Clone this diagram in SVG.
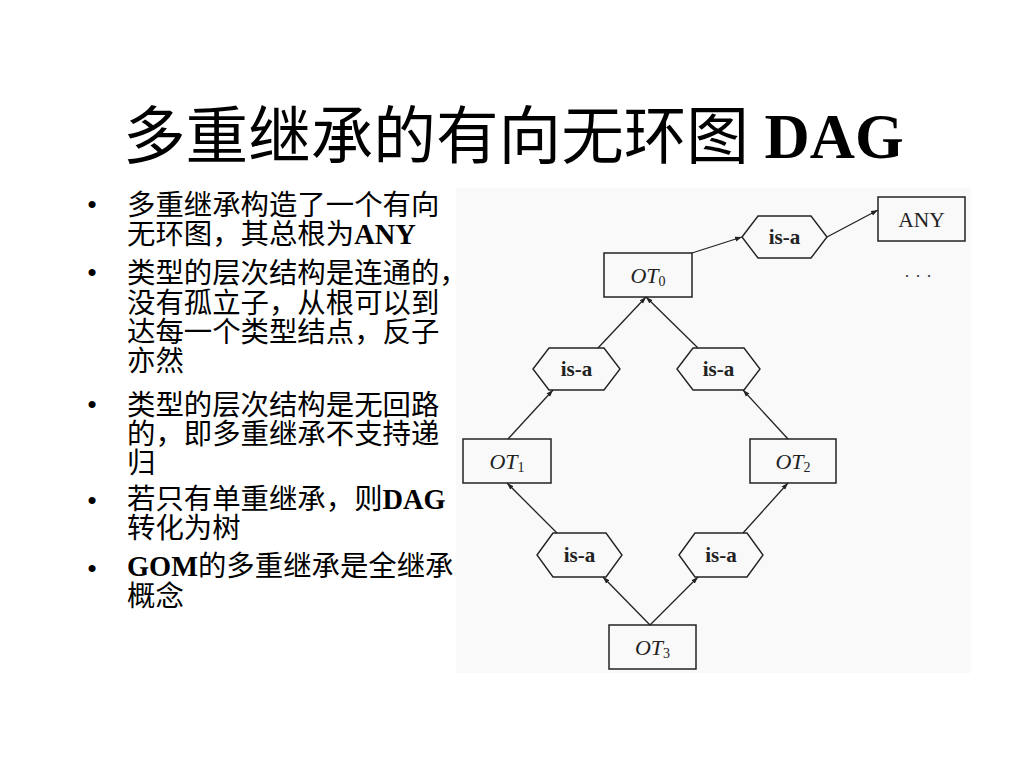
<svg xmlns="http://www.w3.org/2000/svg" width="1024" height="768" viewBox="0 0 1024 768">
<style>
.cn{font-family:"Noto Sans CJK SC","Noto Sans CJK TC",sans-serif;fill:#000}
.lat{font-family:"Liberation Serif","Times New Roman",serif;font-weight:bold}
.title{font-size:62.6px}
.body{font-size:28.4px}
.bul{font-family:"Liberation Sans",Arial,sans-serif;font-size:26px;fill:#000}
.box{fill:none;stroke:#222;stroke-width:1.5}
.hex{fill:none;stroke:#222;stroke-width:1.4}
.isa{font-family:"Liberation Serif","Times New Roman",serif;font-weight:bold;font-size:21px;fill:#222;text-anchor:middle}
.ot{font-family:"Liberation Serif","Times New Roman",serif;font-style:italic;font-size:22px;fill:#222;text-anchor:middle}
.sub{font-style:normal;font-size:14px}
.any{font-family:"Liberation Serif","Times New Roman",serif;font-size:21.5px;fill:#222;text-anchor:middle}
.conn line{stroke:#222;stroke-width:1.3;marker-end:url(#ah)}
</style>
<defs>
<marker id="ah" markerUnits="userSpaceOnUse" markerWidth="8" markerHeight="6" refX="7" refY="3" orient="auto">
<path d="M0,0.6 L7,3 L0,5.4 Z" fill="#222"/>
</marker>
</defs>
<rect width="1024" height="768" fill="#fff"/>

<g id="title">
<text class="cn title" x="123" y="158">多重继承的有向无环图<tspan class="lat"> DAG</tspan></text>
</g>

<g id="bullets">
<text class="bul" x="92" y="213" text-anchor="middle">•</text>
<text class="bul" x="92" y="281" text-anchor="middle">•</text>
<text class="bul" x="92" y="413" text-anchor="middle">•</text>
<text class="bul" x="92" y="509" text-anchor="middle">•</text>
<text class="bul" x="92" y="577" text-anchor="middle">•</text>
<text class="cn body"><tspan x="127" y="215">多重继承构造了一个有向</tspan><tspan x="127" y="244">无环图，其总根为</tspan><tspan class="lat">ANY</tspan></text>
<text class="cn body"><tspan x="127" y="283">类型的层次结构是连通的，</tspan><tspan x="127" y="313">没有孤立子，从根可以到</tspan><tspan x="127" y="342">达每一个类型结点，反子</tspan><tspan x="127" y="371">亦然</tspan></text>
<text class="cn body"><tspan x="127" y="415">类型的层次结构是无回路</tspan><tspan x="127" y="444">的，即多重继承不支持递</tspan><tspan x="127" y="473">归</tspan></text>
<text class="cn body"><tspan x="127" y="509">若只有单重继承，则</tspan><tspan class="lat">DAG</tspan><tspan x="127" y="538">转化为树</tspan></text>
<text class="cn body"><tspan x="127" y="576" class="lat">GOM</tspan><tspan>的多重继承是全继承</tspan><tspan x="127" y="606">概念</tspan></text>
</g>

<rect id="figure-bg" x="456" y="188" width="515" height="485" fill="#f9f9f9"/>

<g id="connectors" class="conn">
<line x1="692" y1="253" x2="742" y2="237"/>
<line x1="827" y1="237" x2="878" y2="210"/>
<line x1="598" y1="348" x2="646" y2="297"/>
<line x1="698" y1="348" x2="646" y2="297"/>
<line x1="508" y1="439" x2="553" y2="390"/>
<line x1="788" y1="439" x2="743" y2="390"/>
<line x1="557" y1="533" x2="507" y2="483"/>
<line x1="743" y1="533" x2="788" y2="483"/>
<line x1="650" y1="625" x2="603" y2="577"/>
<line x1="650" y1="625" x2="698" y2="577"/>
</g>

<g id="node-any">
<rect class="box" x="878" y="197" width="87" height="44" fill="#fdfdfd"/>
<text class="any" x="921.5" y="227">ANY</text>
</g>
<g id="node-more">
<text x="905" y="277" font-family="Liberation Serif, serif" font-size="16" letter-spacing="7" fill="#222">...</text>
</g>
<g id="node-isa-top">
<polygon class="hex" points="742,237 758,216 811,216 827,237 811,258 758,258"/>
<text class="isa" x="784.5" y="244">is-a</text>
</g>
<g id="node-ot0">
<rect class="box" x="604" y="253" width="88" height="44"/>
<text class="ot" x="648" y="283">OT<tspan class="sub" dy="3">0</tspan></text>
</g>
<g id="node-isa-l1">
<polygon class="hex" points="533,369 549,348 604,348 620,369 604,390 549,390"/>
<text class="isa" x="576.5" y="376">is-a</text>
</g>
<g id="node-isa-r1">
<polygon class="hex" points="677,369 693,348 744,348 760,369 744,390 693,390"/>
<text class="isa" x="718.5" y="376">is-a</text>
</g>
<g id="node-ot1">
<rect class="box" x="463" y="439" width="88" height="44"/>
<text class="ot" x="507" y="469">OT<tspan class="sub" dy="3">1</tspan></text>
</g>
<g id="node-ot2">
<rect class="box" x="750" y="439" width="86" height="44"/>
<text class="ot" x="793" y="469">OT<tspan class="sub" dy="3">2</tspan></text>
</g>
<g id="node-isa-l2">
<polygon class="hex" points="537,555 553,533 606,533 622,555 606,577 553,577"/>
<text class="isa" x="579.5" y="562">is-a</text>
</g>
<g id="node-isa-r2">
<polygon class="hex" points="679,555 695,533 747,533 763,555 747,577 695,577"/>
<text class="isa" x="721" y="562">is-a</text>
</g>
<g id="node-ot3">
<rect class="box" x="609" y="625" width="87" height="44"/>
<text class="ot" x="652.5" y="655">OT<tspan class="sub" dy="3">3</tspan></text>
</g>
</svg>
